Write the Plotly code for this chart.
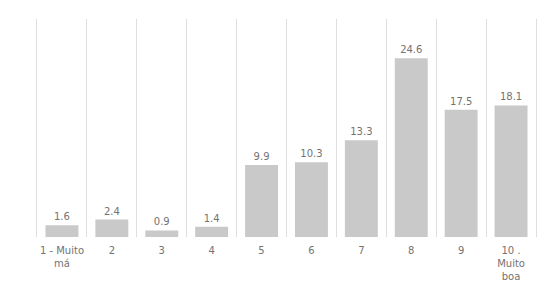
import plotly.graph_objects as go

categories = ["1 - Muito<br>má", "2", "3", "4", "5", "6", "7", "8", "9", "10 .<br>Muito<br>boa"]
values = [1.6, 2.4, 0.9, 1.4, 9.9, 10.3, 13.3, 24.6, 17.5, 18.1]
labels = [f"{v:.1f}" for v in values]

fig = go.Figure(go.Bar(
    x=categories, y=values, text=labels, textposition="outside",
    marker=dict(color="#c9c9c9", line=dict(width=0)),
    textfont=dict(family="DejaVu Sans", size=10, color="#737373"),
    cliponaxis=False,
))
fig.update_layout(
    width=560, height=293,
    margin=dict(l=37, r=24, t=19, b=56),
    paper_bgcolor="white", plot_bgcolor="white",
    bargap=0.34, showlegend=False,
    font=dict(family="DejaVu Sans", size=10, color="#737373"),
)
fig.update_xaxes(type="category", tickson="boundaries", showgrid=True, gridcolor="#dedede",
                 gridwidth=1, ticks="", showline=False, zeroline=False, tickangle=0,
                 ticklabelstandoff=6,
                 tickfont=dict(family="DejaVu Sans", size=10, color="#737373"))
fig.update_yaxes(range=[0, 30], showgrid=False, zeroline=False, showticklabels=False,
                 ticks="", showline=True, linecolor="#dedede", linewidth=1, mirror=True)
fig.write_html("out.html")
